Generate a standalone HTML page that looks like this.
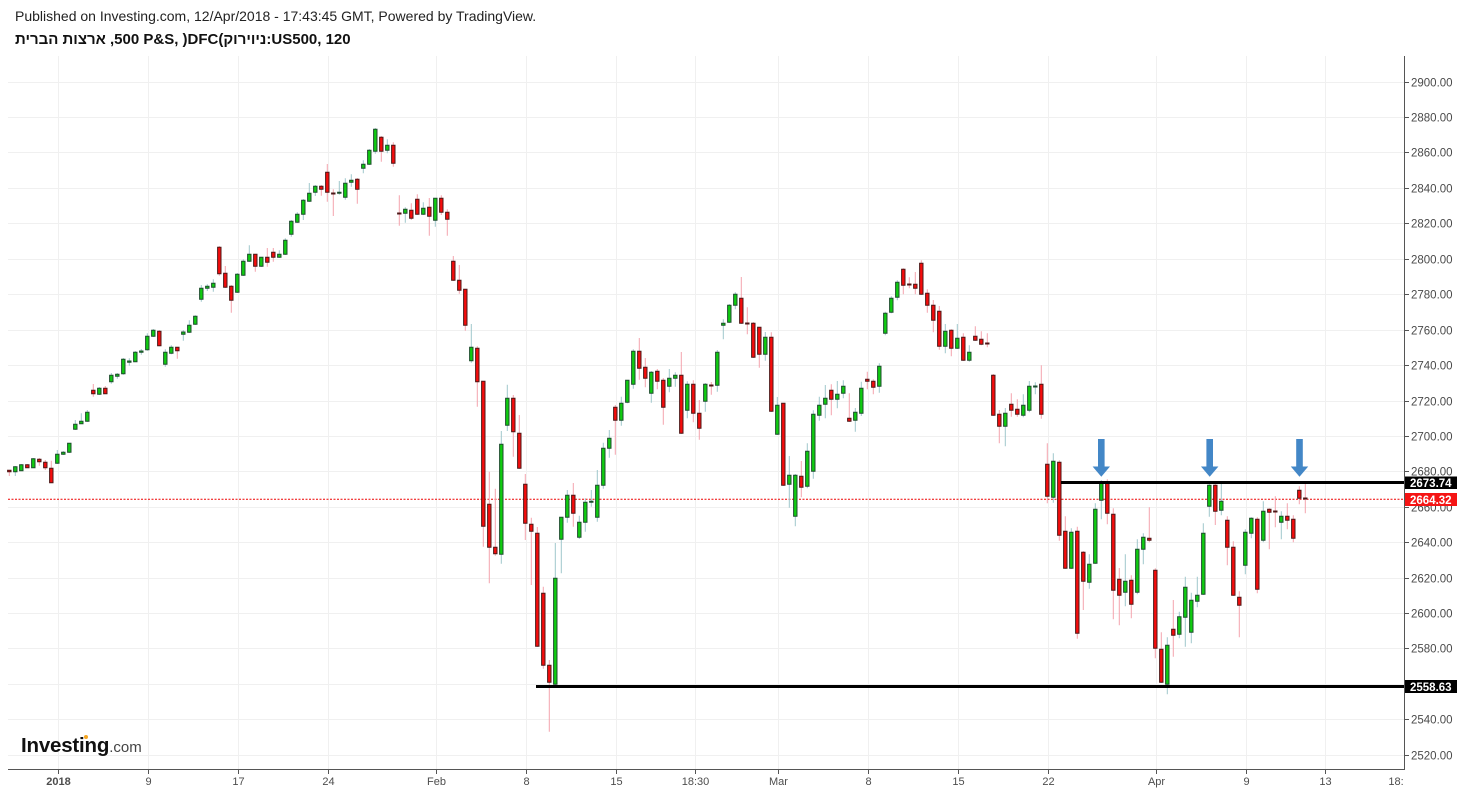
<!DOCTYPE html>
<html><head><meta charset="utf-8"><style>
html,body{margin:0;padding:0;background:#fff;width:1463px;height:793px;overflow:hidden}
.t1{position:absolute;left:15px;top:8px;font:14px "Liberation Sans",sans-serif;color:#222;white-space:nowrap}
.t2{position:absolute;left:15px;top:31px;font:bold 15px "Liberation Sans","DejaVu Sans",sans-serif;color:#111;white-space:nowrap;unicode-bidi:bidi-override;direction:ltr}
svg{position:absolute;left:0;top:0}
.yl{font:11.5px "Liberation Sans",sans-serif;fill:#4a4a4a}
.xl{font:11px "Liberation Sans",sans-serif;fill:#4d4d4d}
</style></head><body>
<div class="t1">Published on Investing.com, 12/Apr/2018 - 17:43:45 GMT, Powered by TradingView.</div>
<div class="t2">תירבה תוצרא ,500 P&amp;S, )DFC(קוריוינ:US500, 120</div>
<svg width="1463" height="793" viewBox="0 0 1463 793">
<g stroke="#f0f0f0" stroke-width="1">
<path d="M8 82.5H1404M8 117.5H1404M8 152.5H1404M8 188.5H1404M8 223.5H1404M8 259.5H1404M8 294.5H1404M8 330.5H1404M8 365.5H1404M8 401.5H1404M8 436.5H1404M8 471.5H1404M8 507.5H1404M8 542.5H1404M8 578.5H1404M8 613.5H1404M8 648.5H1404M8 684.5H1404M8 719.5H1404M8 755.5H1404"/>
<path d="M58.5 56V769M148.5 56V769M238.5 56V769M328.5 56V769M436.5 56V769M526.5 56V769M616.5 56V769M695.5 56V769M778.5 56V769M868.5 56V769M958.5 56V769M1048.5 56V769M1156.5 56V769M1246.5 56V769M1325.5 56V769"/>
</g>
<line x1="8" y1="499.3" x2="1404" y2="499.3" stroke="#e00" stroke-width="1" stroke-dasharray="2 1.5"/>
<path fill="none" stroke="#9fc6cc" stroke-width="1" d="M15.3 466V476M21.3 464V471M33.3 458V468M57.3 450V464M63.3 451V455M69.3 443V453M75.3 420V430M81.3 413.3V424M87.3 410V422M99.3 387V395M111.3 373V383.7M117.3 373V378.7M123.3 358V374.7M129.3 358.3V365.7M135.3 351V362M141.3 349V354.7M147.3 333.3V350.7M153.3 329V337M165.3 349.3V366.7M171.3 345.3V354.3M183.3 330V340.7M189.3 320.3V333M195.3 315.3V325M201.3 285V301.7M207.3 284.3V291M213.3 279.3V291.7M237.3 273V293M243.3 259.3V276M249.3 245.3V262M261.3 257V267M279.3 250.3V258M285.3 238.3V255M291.3 220V236.7M297.3 212.3V223M303.3 199V220M309.3 183V202M315.3 185V196M339.3 181V194.7M345.3 178.3V199.7M351.3 174.3V186.7M363.3 160.3V173.3M369.3 149V165M375.3 128V153.7M387.3 139.3V153.3M405.3 207.3V222.7M423.3 202.3V215M435.3 198V226.7M471.3 324V362.7M501.3 431V563.7M507.3 384.7V431M555.3 543V685M561.3 517V573.3M567.3 490V522.7M579.3 515.7V539M585.3 498.3V531.7M591.3 490V506.7M597.3 470V521.7M603.3 442.7V488.7M609.3 430V457.7M621.3 396.7V425.7M627.3 380V403.3M633.3 349.3V388.7M651.3 371V402.7M669.3 369V392.3M675.3 372.3V386.7M687.3 381.3V418.3M705.3 383V411.7M717.3 350V391.7M723.3 319.3V339.3M729.3 304V323M735.3 292.3V309.3M765.3 332V360.7M777.3 397V435M789.3 456V507.7M795.3 474V526.3M807.3 443.3V488.3M813.3 410.3V478.7M819.3 396.7V420.7M825.3 385V418.3M837.3 381V408.3M843.3 380.3V398.3M855.3 408V431.7M861.3 381.7V416M879.3 363.3V392.7M885.3 311.7V335.3M891.3 296.3V313.3M897.3 280.3V300.3M945.3 324V353.3M957.3 324V349M969.3 345.3V361.7M1005.3 408V446.3M1023.3 394.3V417.3M1029.3 381V412.3M1035.3 382.3V394.3M1053.3 453.3V502.7M1071.3 528.3V569M1089.3 554.3V588.7M1095.3 503.3V564M1101.3 480.3V519.3M1125.3 554.3V606.3M1137.3 539.3V594.3M1143.3 533.3V564.3M1167.3 637.3V694.3M1179.3 611.7V638.3M1185.3 576.7V646.7M1191.3 592.7V643.3M1197.3 576.7V607.3M1203.3 523.3V595M1209.3 483.3V516.7M1221.3 483.3V515.3M1245.3 529.3V574.3M1251.3 517.3V538.3M1263.3 501.3V542.3M1281.3 511.3V539.3"/>
<path fill="none" stroke="#f4a3ad" stroke-width="1" d="M9.3 470V476M27.3 464V468M39.3 458V465.7M45.3 460V470M51.3 460.7V483M93.3 384V396.7M105.3 386V394M159.3 330V346.3M177.3 347V358.7M219.3 246V275.7M225.3 266V288M231.3 285V312.7M255.3 254V271.7M267.3 248V266.7M273.3 248V261.7M321.3 185V195.7M327.3 164V201.7M333.3 189.3V216M357.3 178V203.7M381.3 136V161.7M393.3 142.3V166.7M399.3 195.3V225.7M411.3 203.3V220M417.3 194.3V215M429.3 198V235.7M441.3 195.3V215M447.3 209.3V235.7M453.3 256V281M459.3 265V293.7M465.3 289V330.7M477.3 346.3V406.7M483.3 381V546.7M489.3 471.7V583.3M495.3 488.7V555.7M513.3 395V456.7M519.3 415V469M525.3 474V540M531.3 517.7V585M537.3 527V647M543.3 586.7V668.7M549.3 660V731.7M573.3 483V526.7M615.3 405V454.7M639.3 338V379.7M645.3 358V387.3M657.3 369V389.3M663.3 378V424.7M681.3 352V434M693.3 380.3V422.3M699.3 400V439.7M711.3 382V394.7M741.3 277V324M747.3 307.3V334.3M753.3 322V358M759.3 327V367.7M771.3 332.3V412M783.3 403V486M801.3 461V497.3M831.3 384.3V415.3M849.3 393.3V422M867.3 371.7V389.3M873.3 379.3V394.3M903.3 268.3V294.3M909.3 277.3V288.3M915.3 272V294.3M921.3 260.3V295M927.3 289.3V312.7M933.3 300V332.3M939.3 306V349.7M951.3 329.3V356.3M963.3 333.3V361M975.3 326.3V341M981.3 331.3V345.3M987.3 333.3V347.3M993.3 374V416M999.3 410V443.3M1011.3 393.3V416.7M1017.3 399.3V416.7M1041.3 365.3V418.7M1047.3 443.3V503.3M1059.3 460.3V540.7M1065.3 516.3V569M1077.3 526.7V638.7M1083.3 551V610M1107.3 479.3V524.3M1113.3 508.3V619.3M1119.3 568V625.3M1131.3 575.3V618.3M1149.3 507.3V542.3M1155.3 568.3V658.3M1161.3 632.3V683M1173.3 600V656.7M1215.3 483.3V525M1227.3 516.3V565.3M1233.3 541.3V596M1239.3 591.3V637.3M1257.3 517.3V593.3M1269.3 508.3V549.3M1275.3 496.3V527.3M1287.3 503.3V529.3M1293.3 515.3V542.3M1299.3 486.3V504.3M1305.3 483.3V513.3"/>
<path fill="#10cc10" stroke="#1c4d2c" stroke-width="1" d="M13.6 466.7h3.4V471.7h-3.4zM19.6 464.7h3.4V470.7h-3.4zM31.6 458.7h3.4V467.7h-3.4zM55.6 454.3h3.4V463.3h-3.4zM61.6 452.3h3.4V454.3h-3.4zM67.6 443.3h3.4V452.3h-3.4zM73.6 424.3h3.4V429.3h-3.4zM79.6 421.3h3.4V423.7h-3.4zM85.6 412.3h3.4V421.3h-3.4zM97.6 388.3h3.4V394.3h-3.4zM109.6 375.3h3.4V381.7h-3.4zM115.6 374.3h3.4V376.3h-3.4zM121.6 359.3h3.4V373.7h-3.4zM127.6 361h3.4V362.3h-3.4zM133.6 352.3h3.4V361.7h-3.4zM139.6 351h3.4V352.3h-3.4zM145.6 336.3h3.4V349.7h-3.4zM151.6 330.3h3.4V336.3h-3.4zM163.6 352.3h3.4V364.3h-3.4zM169.6 347.3h3.4V353.3h-3.4zM181.6 332h3.4V334.3h-3.4zM187.6 325.3h3.4V332.3h-3.4zM193.6 316.3h3.4V324.3h-3.4zM199.6 288.3h3.4V299.3h-3.4zM205.6 286.3h3.4V288.3h-3.4zM211.6 283.3h3.4V287.3h-3.4zM235.6 274.3h3.4V292.3h-3.4zM241.6 261.3h3.4V275.3h-3.4zM247.6 254.3h3.4V261.3h-3.4zM259.6 257.3h3.4V266.3h-3.4zM277.6 254.3h3.4V257.3h-3.4zM283.6 240.3h3.4V254.3h-3.4zM289.6 221.3h3.4V234.3h-3.4zM295.6 214.3h3.4V222.3h-3.4zM301.6 200.3h3.4V214.3h-3.4zM307.6 193.3h3.4V201.3h-3.4zM313.6 186.3h3.4V192.3h-3.4zM337.6 192.3h3.4V193.3h-3.4zM343.6 183.3h3.4V197.3h-3.4zM349.6 180.3h3.4V182.3h-3.4zM361.6 164.3h3.4V168.3h-3.4zM367.6 150.3h3.4V164.3h-3.4zM373.6 129.3h3.4V151.3h-3.4zM385.6 145.3h3.4V150.3h-3.4zM403.6 209.3h3.4V213.3h-3.4zM421.6 208.3h3.4V214.3h-3.4zM433.6 198.3h3.4V220.3h-3.4zM469.6 347.3h3.4V360.7h-3.4zM499.6 444.3h3.4V554.3h-3.4zM505.6 398.3h3.4V425.3h-3.4zM553.6 578.3h3.4V684.3h-3.4zM559.6 517.3h3.4V539.3h-3.4zM565.6 495.3h3.4V517.3h-3.4zM577.6 522.3h3.4V537.3h-3.4zM583.6 502.3h3.4V522.3h-3.4zM589.6 501.3h3.4V502.3h-3.4zM595.6 485.3h3.4V517.3h-3.4zM601.6 448.3h3.4V485.3h-3.4zM607.6 438.3h3.4V448.3h-3.4zM619.6 403.3h3.4V420.3h-3.4zM625.6 380.3h3.4V402.3h-3.4zM631.6 351.3h3.4V384.3h-3.4zM649.6 372.3h3.4V393.3h-3.4zM667.6 378.3h3.4V386.3h-3.4zM673.6 375.3h3.4V378.3h-3.4zM685.6 384.3h3.4V410.3h-3.4zM703.6 384.3h3.4V401.3h-3.4zM715.6 352.3h3.4V385.3h-3.4zM721.6 323.3h3.4V325.3h-3.4zM727.6 305.3h3.4V322.3h-3.4zM733.6 294.3h3.4V305.3h-3.4zM763.6 337.3h3.4V354.3h-3.4zM775.6 405.3h3.4V434.3h-3.4zM787.6 475.3h3.4V484.3h-3.4zM793.6 475.3h3.4V516.3h-3.4zM805.6 451.3h3.4V486.3h-3.4zM811.6 414.3h3.4V471.3h-3.4zM817.6 405.3h3.4V415.3h-3.4zM823.6 398.3h3.4V404.3h-3.4zM835.6 394.3h3.4V399.3h-3.4zM841.6 386.3h3.4V393.3h-3.4zM853.6 412.3h3.4V420.3h-3.4zM859.6 388.3h3.4V413.3h-3.4zM877.6 366.3h3.4V386.3h-3.4zM883.6 313.3h3.4V333.3h-3.4zM889.6 298.3h3.4V312.3h-3.4zM895.6 282.3h3.4V297.3h-3.4zM943.6 331.3h3.4V346.3h-3.4zM955.6 338.3h3.4V348.3h-3.4zM967.6 352.3h3.4V360.3h-3.4zM1003.6 413.3h3.4V426.3h-3.4zM1021.6 405.3h3.4V415.3h-3.4zM1027.6 386.3h3.4V410.3h-3.4zM1033.6 386h3.4V387h-3.4zM1051.6 461.3h3.4V497.3h-3.4zM1069.6 532.3h3.4V568.3h-3.4zM1087.6 564.3h3.4V582.3h-3.4zM1093.6 509.3h3.4V563.3h-3.4zM1099.6 483.3h3.4V500.3h-3.4zM1123.6 581.3h3.4V592.3h-3.4zM1135.6 549.3h3.4V592.3h-3.4zM1141.6 537.3h3.4V549.3h-3.4zM1165.6 645.3h3.4V684.3h-3.4zM1177.6 616.7h3.4V634.3h-3.4zM1183.6 587.3h3.4V617.3h-3.4zM1189.6 600.3h3.4V632.3h-3.4zM1195.6 595.3h3.4V601.3h-3.4zM1201.6 533.3h3.4V594.3h-3.4zM1207.6 485.3h3.4V506.3h-3.4zM1219.6 501.3h3.4V510.3h-3.4zM1243.6 532.3h3.4V565.3h-3.4zM1249.6 518.3h3.4V533.3h-3.4zM1261.6 511.3h3.4V540.3h-3.4zM1279.6 516.3h3.4V522.3h-3.4z"/>
<path fill="#f50c0c" stroke="#4d1717" stroke-width="1" d="M7.6 470.3h3.4V471.7h-3.4zM25.6 464.7h3.4V467.7h-3.4zM37.6 459.3h3.4V461.7h-3.4zM43.6 462.3h3.4V467.7h-3.4zM49.6 468.3h3.4V482.7h-3.4zM91.6 390.3h3.4V393.7h-3.4zM103.6 388.3h3.4V393.7h-3.4zM157.6 331.3h3.4V345.7h-3.4zM175.6 347.3h3.4V350.7h-3.4zM217.6 247.3h3.4V273.7h-3.4zM223.6 273.3h3.4V287.3h-3.4zM229.6 286.3h3.4V300.3h-3.4zM253.6 254.3h3.4V266.3h-3.4zM265.6 257.3h3.4V262.3h-3.4zM271.6 252.3h3.4V257.3h-3.4zM319.6 186.3h3.4V189.3h-3.4zM325.6 172.3h3.4V192.3h-3.4zM331.6 193h3.4V194h-3.4zM355.6 179.3h3.4V189.3h-3.4zM379.6 137.3h3.4V151.3h-3.4zM391.6 145.3h3.4V163.3h-3.4zM397.6 213h3.4V214h-3.4zM409.6 210.3h3.4V218.3h-3.4zM415.6 199.3h3.4V214.3h-3.4zM427.6 207.3h3.4V216.3h-3.4zM439.6 198.3h3.4V212.3h-3.4zM445.6 212.3h3.4V219.3h-3.4zM451.6 261.3h3.4V280.3h-3.4zM457.6 280.3h3.4V290.3h-3.4zM463.6 289.3h3.4V325.3h-3.4zM475.6 348.3h3.4V381.7h-3.4zM481.6 381.3h3.4V526.3h-3.4zM487.6 504.3h3.4V547.3h-3.4zM493.6 547.3h3.4V553.7h-3.4zM511.6 398.3h3.4V431.7h-3.4zM517.6 433.3h3.4V468.3h-3.4zM523.6 484.3h3.4V523.3h-3.4zM529.6 524.3h3.4V531.3h-3.4zM535.6 533.3h3.4V646.3h-3.4zM541.6 593.3h3.4V665.3h-3.4zM547.6 665.3h3.4V682.3h-3.4zM571.6 495.3h3.4V513.3h-3.4zM613.6 407.3h3.4V420.3h-3.4zM637.6 351.3h3.4V368.3h-3.4zM643.6 367.3h3.4V378.3h-3.4zM655.6 371.3h3.4V381.3h-3.4zM661.6 380.3h3.4V407.3h-3.4zM679.6 375.3h3.4V433.3h-3.4zM691.6 384.3h3.4V413.3h-3.4zM697.6 413.3h3.4V428.3h-3.4zM709.6 385h3.4V386h-3.4zM739.6 298.3h3.4V323.3h-3.4zM745.6 323h3.4V324h-3.4zM751.6 323.3h3.4V357.3h-3.4zM757.6 327.3h3.4V354.3h-3.4zM769.6 337.3h3.4V411.3h-3.4zM781.6 403.3h3.4V485.3h-3.4zM799.6 476.3h3.4V487.3h-3.4zM829.6 390.3h3.4V399.3h-3.4zM847.6 418.3h3.4V421.3h-3.4zM865.6 379.3h3.4V381.3h-3.4zM871.6 381.3h3.4V387.3h-3.4zM901.6 269.3h3.4V285.3h-3.4zM907.6 284h3.4V285h-3.4zM913.6 284.3h3.4V288.3h-3.4zM919.6 263.3h3.4V294.3h-3.4zM925.6 293.3h3.4V305.3h-3.4zM931.6 305.3h3.4V320.3h-3.4zM937.6 311.3h3.4V346.3h-3.4zM949.6 330.3h3.4V348.3h-3.4zM961.6 337.3h3.4V360.3h-3.4zM973.6 336.3h3.4V340.3h-3.4zM979.6 339.3h3.4V344.3h-3.4zM985.6 343h3.4V344h-3.4zM991.6 375.3h3.4V415.3h-3.4zM997.6 414.3h3.4V426.3h-3.4zM1009.6 404.3h3.4V410.3h-3.4zM1015.6 409.3h3.4V414.3h-3.4zM1039.6 384.3h3.4V414.3h-3.4zM1045.6 464.3h3.4V496.3h-3.4zM1057.6 462.3h3.4V535.3h-3.4zM1063.6 531.3h3.4V568.3h-3.4zM1075.6 531.3h3.4V633.3h-3.4zM1081.6 552.3h3.4V581.3h-3.4zM1105.6 482.3h3.4V513.3h-3.4zM1111.6 514.3h3.4V590.3h-3.4zM1117.6 579.3h3.4V595.3h-3.4zM1129.6 580.3h3.4V604.3h-3.4zM1147.6 538.3h3.4V540.3h-3.4zM1153.6 570.3h3.4V648.3h-3.4zM1159.6 649.3h3.4V682.3h-3.4zM1171.6 629.3h3.4V635.3h-3.4zM1213.6 485.3h3.4V511.3h-3.4zM1225.6 520.3h3.4V547.3h-3.4zM1231.6 547.3h3.4V595.3h-3.4zM1237.6 597.3h3.4V605.3h-3.4zM1255.6 519.3h3.4V589.3h-3.4zM1267.6 509.3h3.4V512.3h-3.4zM1273.6 511h3.4V512h-3.4zM1285.6 516.3h3.4V520.3h-3.4zM1291.6 519.3h3.4V538.3h-3.4zM1297.6 490.3h3.4V498.3h-3.4zM1303.6 498h3.4V499h-3.4z"/>
<rect x="1061" y="481" width="344" height="3" fill="#000"/>
<rect x="536" y="685" width="869" height="3" fill="#000"/>
<g fill="#4387c7">
<path d="M1098 439h6.6v27.5h5.4l-8.7 10.3l-8.7-10.3h5.4z"/>
<path d="M1206.4 439h6.6v27.5h5.4l-8.7 10.3l-8.7-10.3h5.4z"/>
<path d="M1296.2 439h6.6v27.5h5.4l-8.7 10.3l-8.7-10.3h5.4z"/>
</g>
<g stroke="#555" stroke-width="1">
<path d="M8 769.5H1405M1404.5 56V770"/>
<path d="M58.5 770V774M148.5 770V774M238.5 770V774M328.5 770V774M436.5 770V774M526.5 770V774M616.5 770V774M695.5 770V774M778.5 770V774M868.5 770V774M958.5 770V774M1048.5 770V774M1156.5 770V774M1246.5 770V774M1325.5 770V774"/>
<path d="M1405 82.5h4M1405 117.5h4M1405 152.5h4M1405 188.5h4M1405 223.5h4M1405 259.5h4M1405 294.5h4M1405 330.5h4M1405 365.5h4M1405 401.5h4M1405 436.5h4M1405 471.5h4M1405 507.5h4M1405 542.5h4M1405 578.5h4M1405 613.5h4M1405 648.5h4M1405 684.5h4M1405 719.5h4M1405 755.5h4"/>
</g>
<g class="yl">
<text x="1411" y="86.5">2900.00</text>
<text x="1411" y="121.5">2880.00</text>
<text x="1411" y="156.5">2860.00</text>
<text x="1411" y="192.5">2840.00</text>
<text x="1411" y="227.5">2820.00</text>
<text x="1411" y="263.5">2800.00</text>
<text x="1411" y="298.5">2780.00</text>
<text x="1411" y="334.5">2760.00</text>
<text x="1411" y="369.5">2740.00</text>
<text x="1411" y="405.5">2720.00</text>
<text x="1411" y="440.5">2700.00</text>
<text x="1411" y="475.5">2680.00</text>
<text x="1411" y="511.5">2660.00</text>
<text x="1411" y="546.5">2640.00</text>
<text x="1411" y="582.5">2620.00</text>
<text x="1411" y="617.5">2600.00</text>
<text x="1411" y="652.5">2580.00</text>
<text x="1411" y="688.5">2560.00</text>
<text x="1411" y="723.5">2540.00</text>
<text x="1411" y="759.5">2520.00</text>
</g>
<rect x="1405" y="476.5" width="52" height="12.5" fill="#000"/>
<text x="1410" y="487" font-family="Liberation Sans" font-size="11.5" font-weight="bold" fill="#fff">2673.74</text>
<rect x="1405" y="493" width="52" height="13" fill="#f51414"/>
<text x="1410" y="503.8" font-family="Liberation Sans" font-size="11.5" font-weight="bold" fill="#fff">2664.32</text>
<rect x="1405" y="680" width="52" height="13" fill="#000"/>
<text x="1410" y="690.8" font-family="Liberation Sans" font-size="11.5" font-weight="bold" fill="#fff">2558.63</text>
<g class="xl" text-anchor="middle">
<text x="58.5" y="785" font-weight="bold">2018</text>
<text x="148.5" y="785">9</text>
<text x="238.5" y="785">17</text>
<text x="328.5" y="785">24</text>
<text x="436.5" y="785">Feb</text>
<text x="526.5" y="785">8</text>
<text x="616.5" y="785">15</text>
<text x="695.5" y="785">18:30</text>
<text x="778.5" y="785">Mar</text>
<text x="868.5" y="785">8</text>
<text x="958.5" y="785">15</text>
<text x="1048.5" y="785">22</text>
<text x="1156.5" y="785">Apr</text>
<text x="1246.5" y="785">9</text>
<text x="1325.5" y="785">13</text>
<text x="1396" y="785">18:</text>
</g>
<text x="21" y="752" font-family="Liberation Sans" font-size="20.5" font-weight="bold" fill="#111" letter-spacing="-0.2">Investing<tspan font-size="15" font-weight="normal" fill="#444" letter-spacing="0">.com</tspan></text>
<circle cx="86" cy="737" r="2" fill="#f5a623"/>
</svg>
</body></html>
